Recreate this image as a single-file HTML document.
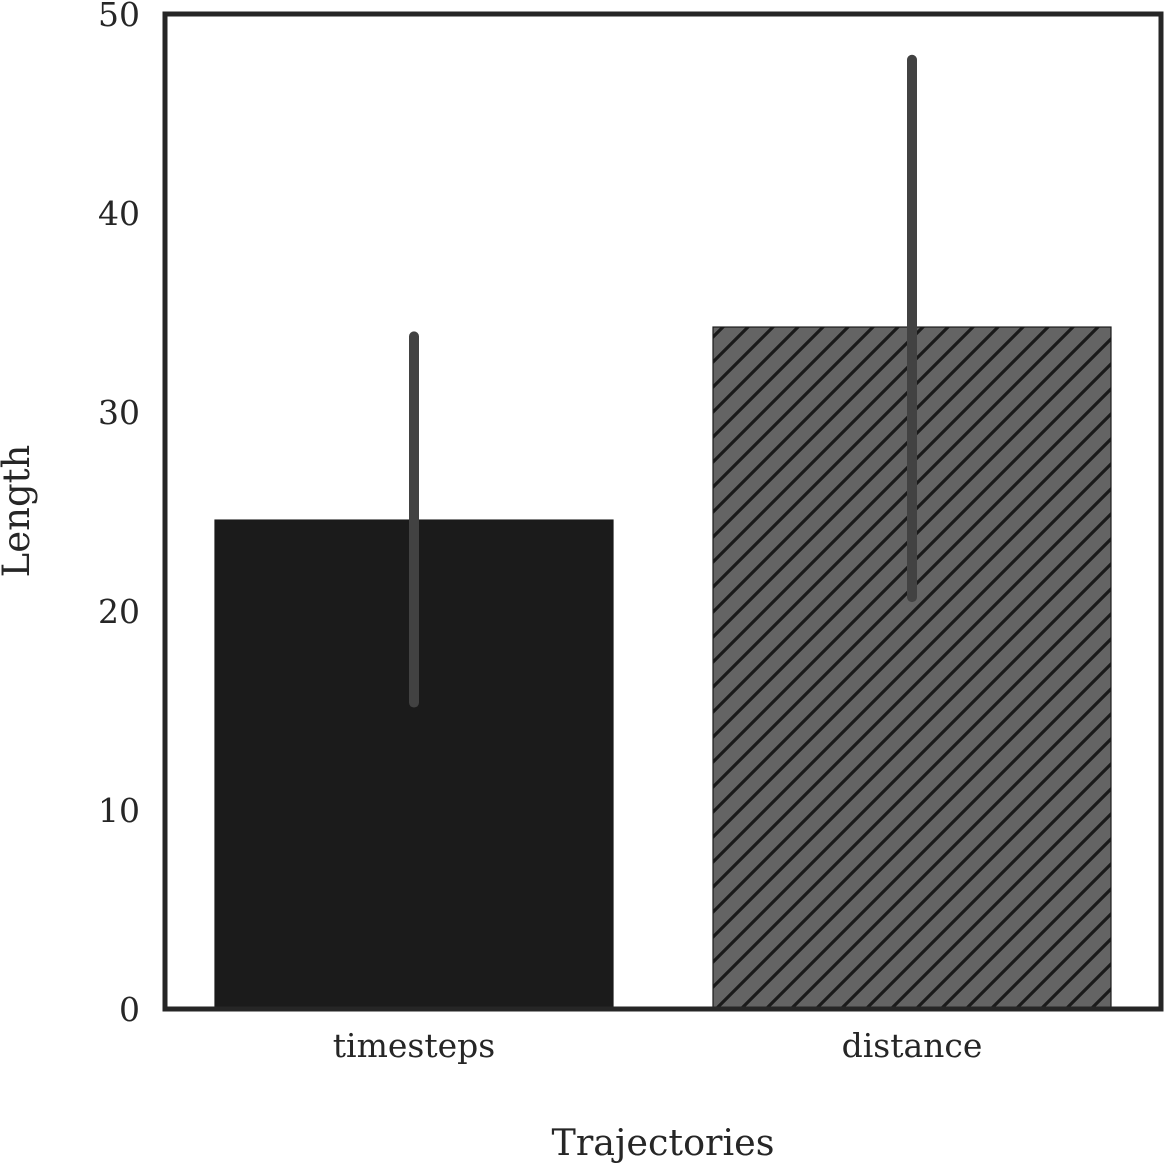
<!DOCTYPE html>
<html><head><meta charset="utf-8"><style>
html,body{margin:0;padding:0;background:#fff;}
svg text{font-family:"DejaVu Serif","Liberation Serif",serif;fill:#262626;}
</style></head><body>
<svg id="chart" width="1167" height="1167" xmlns="http://www.w3.org/2000/svg">
<defs>
<pattern id="hatch" patternUnits="userSpaceOnUse" width="25" height="25">
<rect width="25" height="25" fill="#646464"/>
<path d="M-5,5 L5,-5 M0,25 L25,0 M20,30 L30,20" stroke="#1a1a1a" stroke-width="3.2"/>
</pattern>
</defs>
<g id="plot"></g>
</svg>
<script>
const categories=["timesteps","distance"];
const means=[24.57,34.27];
const errLow=[15.4,20.7];
const errHigh=[33.8,47.7];
const yTicks=[0,10,20,30,40,50];
const L=165,R=1161,T=14,B=1009;
const y=v=>B-(B-T)*v/50;
const band=(R-L)/categories.length;
const x=i=>L+band*i+band/2;
const barW=398;
const ns="http://www.w3.org/2000/svg";
const g=document.getElementById('plot');
function mk(tag,attrs,txt){const e=document.createElementNS(ns,tag);for(const k in attrs)e.setAttribute(k,attrs[k]);if(txt!=null)e.textContent=txt;g.appendChild(e);return e;}
categories.forEach((c,i)=>{
 const b=mk('rect',{x:x(i)-barW/2,y:y(means[i]),width:barW,height:y(0)-y(means[i]),fill:i==0?'#1b1b1b':'url(#hatch)',stroke:'#1b1b1b','stroke-width':1.2});
 
 
});
categories.forEach((c,i)=>{
 const e=mk('line',{x1:x(i),x2:x(i),y1:y(errLow[i]),y2:y(errHigh[i]),stroke:'#424242','stroke-width':10,'stroke-linecap':'round'});
 
 
 const t=mk('text',{x:x(i),y:1057,'text-anchor':'middle','font-size':33},c);
 
 
});
yTicks.forEach(v=>{
 const t=mk('text',{x:140,y:y(v)+12,'text-anchor':'end','font-size':33},String(v));
 
 
});
const fr=mk('rect',{x:L,y:T,width:R-L,height:B-T,fill:'none',stroke:'#262626','stroke-width':5});


const xt=mk('text',{x:663,y:1155,'text-anchor':'middle','font-size':36.5},'Trajectories');


const yt=mk('text',{x:0,y:0,'text-anchor':'middle','font-size':37,transform:'translate(29,511) rotate(-90)'},'Length');


</script>
</body></html>
